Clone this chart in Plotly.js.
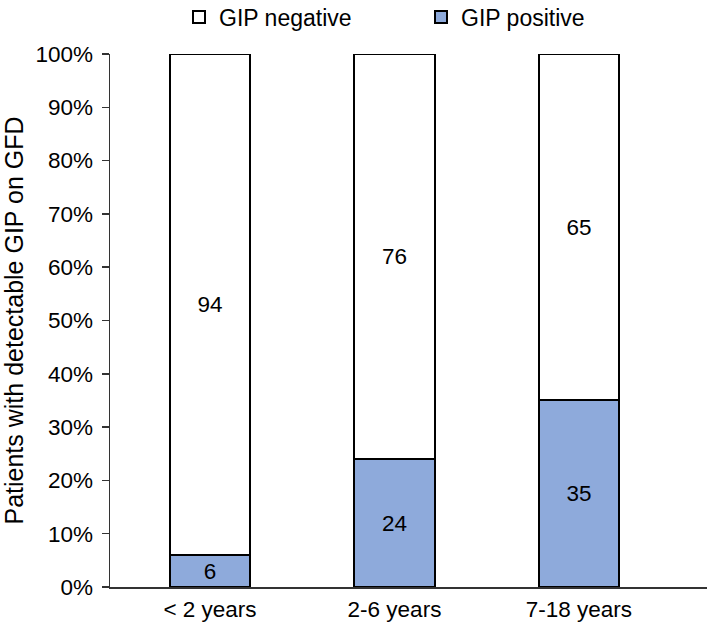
<!DOCTYPE html>
<html><head><meta charset="utf-8">
<script src="https://cdn.plot.ly/plotly-3.0.1.min.js"></script>
<style>body{margin:0;background:#fff}#c{width:709px;height:629px}</style>
</head><body><div id="c"></div>
<script>
const categories = ["< 2 years", "2-6 years", "7-18 years"];
const positive = [6, 24, 35];
const negative = [94, 76, 65];
const yTicks = [0,10,20,30,40,50,60,70,80,90,100];
const yTickLabels = yTicks.map(v => v + "%");

const fam = "Liberation Sans, Arial, sans-serif";
const common = {
  type: "bar", x: categories, width: 0.434,
  textposition: "inside", insidetextanchor: "middle",
  textfont: {family: fam, size: 22.5, color: "#000"},
  hoverinfo: "skip"
};
const data = [
  Object.assign({}, common, {name: "GIP positive", y: positive, text: positive.map(String),
    marker: {color: "#8eaadb", line: {color: "#000", width: 2}}}),
  Object.assign({}, common, {name: "GIP negative", y: negative, text: negative.map(String),
    marker: {color: "#ffffff", line: {color: "#000", width: 2}}})
];
const layout = {
  width: 709, height: 629, barmode: "stack",
  margin: {l: 110, r: 2, t: 54, b: 42},
  paper_bgcolor: "#fff", plot_bgcolor: "#fff",
  font: {family: fam, size: 22.5, color: "#000"}, showlegend: true,
  legend: {orientation: "h", xref: "container", yref: "container", x: 179/709, xanchor: "left",
    y: 1 - 17/629, yanchor: "middle", traceorder: "reversed", entrywidth: 197,
    font: {size: 23}, itemclick: false},
  xaxis: {type: "category", range: [-0.542, 2.694], showline: true, linecolor: "#333", linewidth: 1.5,
    ticks: "", tickfont: {size: 22.5}, showgrid: false, zeroline: false, ticklabelstandoff: 1},
  yaxis: {range: [0, 100], tickvals: yTicks, ticktext: yTickLabels, showline: true, linecolor: "#333",
    linewidth: 1.5, ticks: "outside", ticklen: 7, tickwidth: 1.5, tickcolor: "#333", showgrid: false, zeroline: false,
    tickfont: {size: 22.5}, ticklabelstandoff: 4,
    title: {text: "Patients with detectable GIP on GFD", font: {size: 25}, standoff: 10}}
};
Plotly.newPlot("c", data, layout, {displayModeBar: false, staticPlot: true});
</script></body></html>
